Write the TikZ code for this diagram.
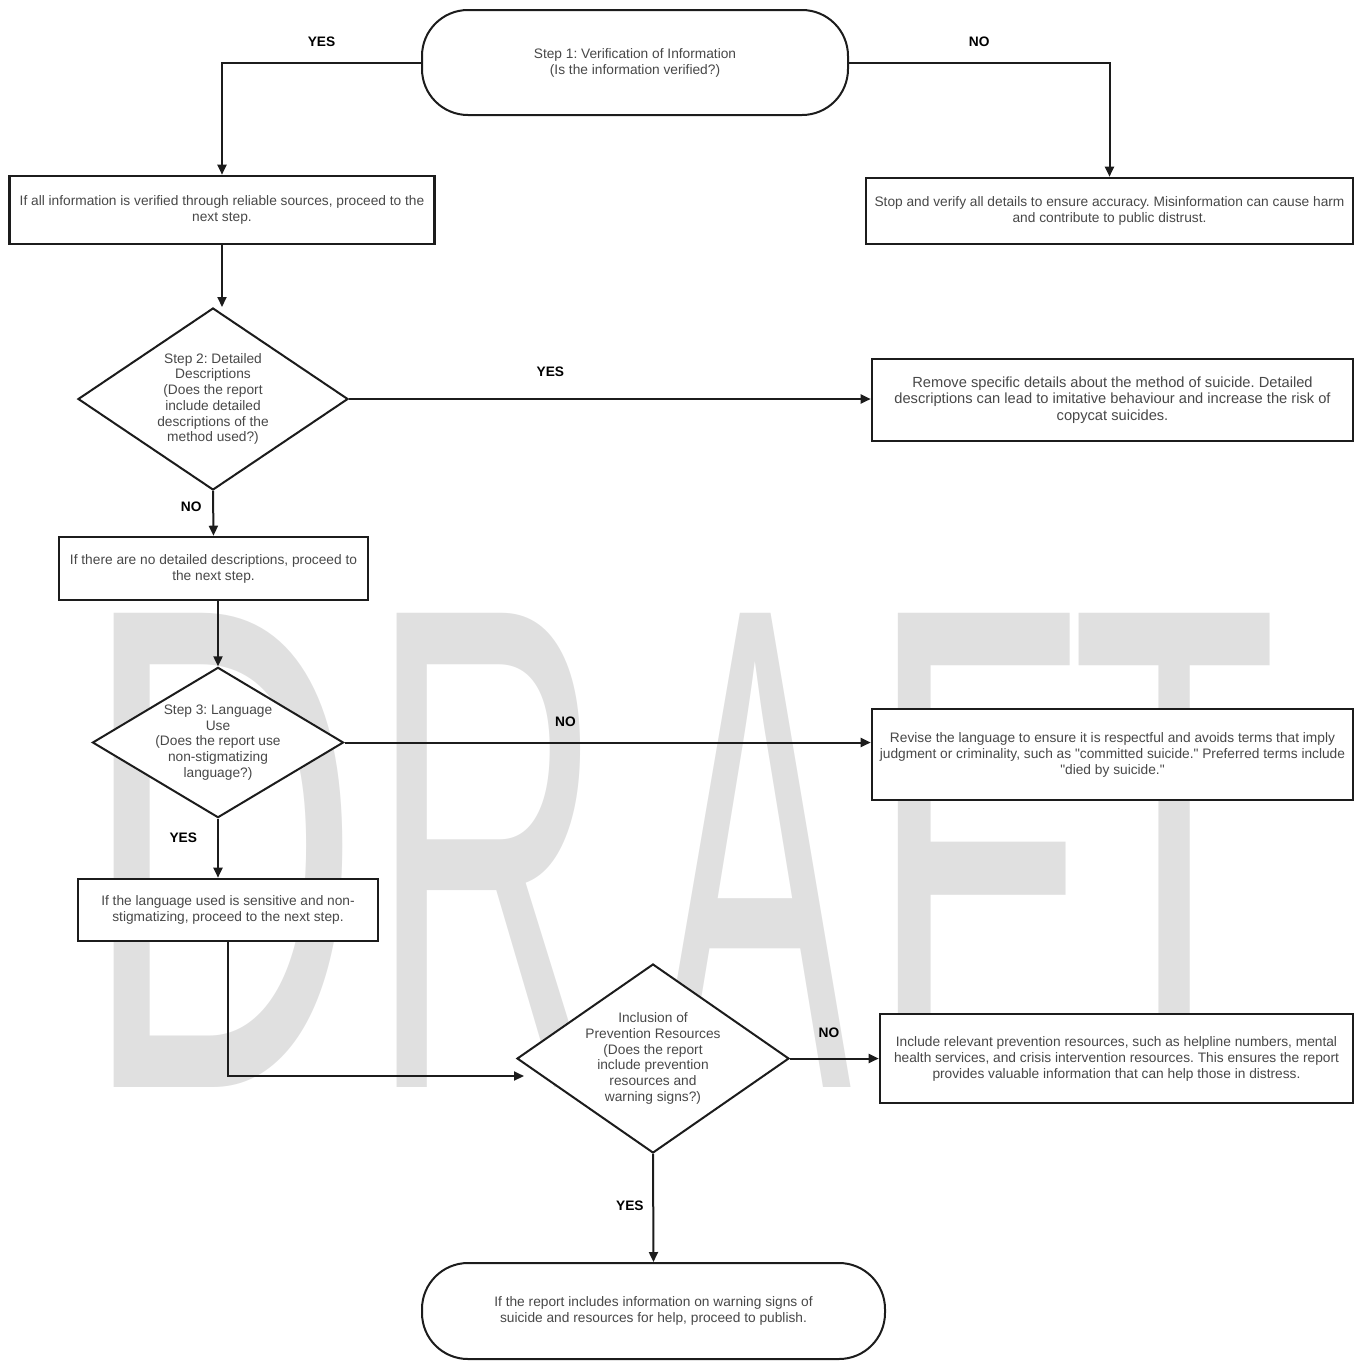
\documentclass[tikz,border=0pt]{standalone}
\usepackage{fontspec}
\setmainfont{Liberation Sans}[Ligatures=TeXOff]
\usetikzlibrary{arrows.meta,shapes.geometric}

\definecolor{txtgray}{RGB}{72,72,72}
\definecolor{wmgray}{RGB}{224,224,224}
\definecolor{inkline}{RGB}{28,28,28}
\newcommand\boxfont{\frenchspacing\fontsize{10.3}{12}\selectfont}
\newcommand\decfont{\frenchspacing\fontsize{10.3}{11.8}\selectfont}
\newcommand\widefont{\frenchspacing\fontsize{11}{12.4}\selectfont}
\newcommand\labfont{\fontsize{10.3}{12}\selectfont\bfseries}

\begin{document}
\begin{tikzpicture}[x=0.75pt,y=-0.75pt,>={Triangle[length=7.5pt,width=6.75pt]}]
  \tikzstyle{wm}=[anchor=base, inner sep=0pt, text=wmgray, font=\fontsize{517}{520}\selectfont]
  \tikzstyle{term}=[draw=inkline, fill=white, rectangle, rounded corners=34.5pt, line width=1.5pt,
                    text=txtgray, font=\boxfont, align=center]
  \tikzstyle{proc}=[draw=inkline, fill=white, rectangle, line width=1.95pt,
                    text=txtgray, font=\boxfont, align=center]
  \tikzstyle{dec}=[draw=inkline, fill=white, diamond, inner sep=0pt, line width=1.5pt,
                   text=txtgray, font=\decfont, align=center]
  \tikzstyle{link}=[->, draw=inkline, line width=1.5pt]
  \tikzstyle{lab}=[inner sep=0pt, text=black, font=\labfont]

  \useasboundingbox (0,0) rectangle (1361,1361);

  % watermark
  \foreach \ch/\cx/\sx in {D/222/0.56, R/487/0.47, A/755/0.42, F/977/0.51, T/1175/0.49}
    \node[wm] (wm\ch) at (\cx,1087) {\scalebox{\sx}[1]{\ch}};

  \node[term, minimum width=319.5pt, minimum height=78.75pt] (start) at (635,62.5)
    {Step 1: Verification of Information\\(Is the information verified?)};
  \node[proc, minimum width=318.75pt, minimum height=51pt] (verified) at (222,210)
    {If all information is verified through reliable sources, proceed to the\\next step.};
  \node[proc, minimum width=365.25pt, minimum height=49.5pt] (stopverify) at (1109.5,211)
    {Stop and verify all details to ensure accuracy. Misinformation can cause harm\\and contribute to public distrust.};
  \node[dec, aspect=1.5, minimum width=202.5pt, minimum height=136.5pt] (details) at (213,399)
    {Step 2: Detailed\\Descriptions\\(Does the report\\include detailed\\descriptions of the\\method used?)};
  \node[proc, font=\widefont, minimum width=360.75pt, minimum height=61.5pt] (remove) at (1112.5,400)
    {Remove specific details about the method of suicide. Detailed\\descriptions can lead to imitative behaviour and increase the risk of\\copycat suicides.};
  \node[proc, minimum width=231.75pt, minimum height=47.25pt] (nodetails) at (213.5,568.5)
    {If there are no detailed descriptions, proceed to\\the next step.};
  \node[dec, aspect=1.67, minimum width=187.5pt, minimum height=111.75pt] (language) at (218,742.5)
    {Step 3: Language\\Use\\(Does the report use\\non-stigmatizing\\language?)};
  \node[proc, minimum width=360.75pt, minimum height=68.25pt] (revise) at (1112.5,754.5)
    {Revise the language to ensure it is respectful and avoids terms that imply\\judgment or criminality, such as "committed suicide." Preferred terms include\\"died by suicide."};
  \node[proc, minimum width=225pt, minimum height=46.5pt] (sensitive) at (228,910)
    {If the language used is sensitive and non-\\stigmatizing, proceed to the next step.};
  \node[dec, aspect=1.44, minimum width=204pt, minimum height=141.75pt] (resources) at (653,1058.5)
    {Inclusion of\\Prevention Resources\\(Does the report\\include prevention\\resources and\\warning signs?)};
  \node[proc, minimum width=354.75pt, minimum height=66.75pt] (include) at (1116.5,1058.5)
    {Include relevant prevention resources, such as helpline numbers, mental\\health services, and crisis intervention resources. This ensures the report\\provides valuable information that can help those in distress.};
  \node[term, minimum width=347.25pt, minimum height=72pt] (publish) at (653.5,1311)
    {If the report includes information on warning signs of\\suicide and resources for help, proceed to publish.};

  \coordinate (resin) at (524,1076);

  \draw[link] (start.west) -| node[lab, pos=0.25, above=11.5pt] {YES} (verified.north);
  \draw[link] (start.east) -| node[lab, pos=0.25, above=11.5pt] {NO} (stopverify.north);
  \draw[link] (verified.south) -- (verified.south |- details.north);
  \path (details.east) edge[link] node[lab, pos=0.386, above=16pt] {YES} (details.east -| remove.west)
        (details.south) edge[link] node[lab, pos=0.36, left=8pt] {NO} (nodetails.north);
  \draw[link] (language.north |- nodetails.south) -- (language.north);
  \path (language.east) edge[link] node[lab, pos=0.42, above=11.5pt] {NO} (language.east -| revise.west)
        (language.south) edge[link] node[lab, pos=0.32, left=15pt] {YES} (language.south |- sensitive.north);
  \draw[link] (sensitive.south) |- (resin);
  \path (resources.east) edge[link] node[lab, pos=0.44, above=15pt] {NO} (include.west)
        (resources.south) edge[link] node[lab, pos=0.48, left=6.5pt] {YES} (publish.north);
\end{tikzpicture}
\end{document}
